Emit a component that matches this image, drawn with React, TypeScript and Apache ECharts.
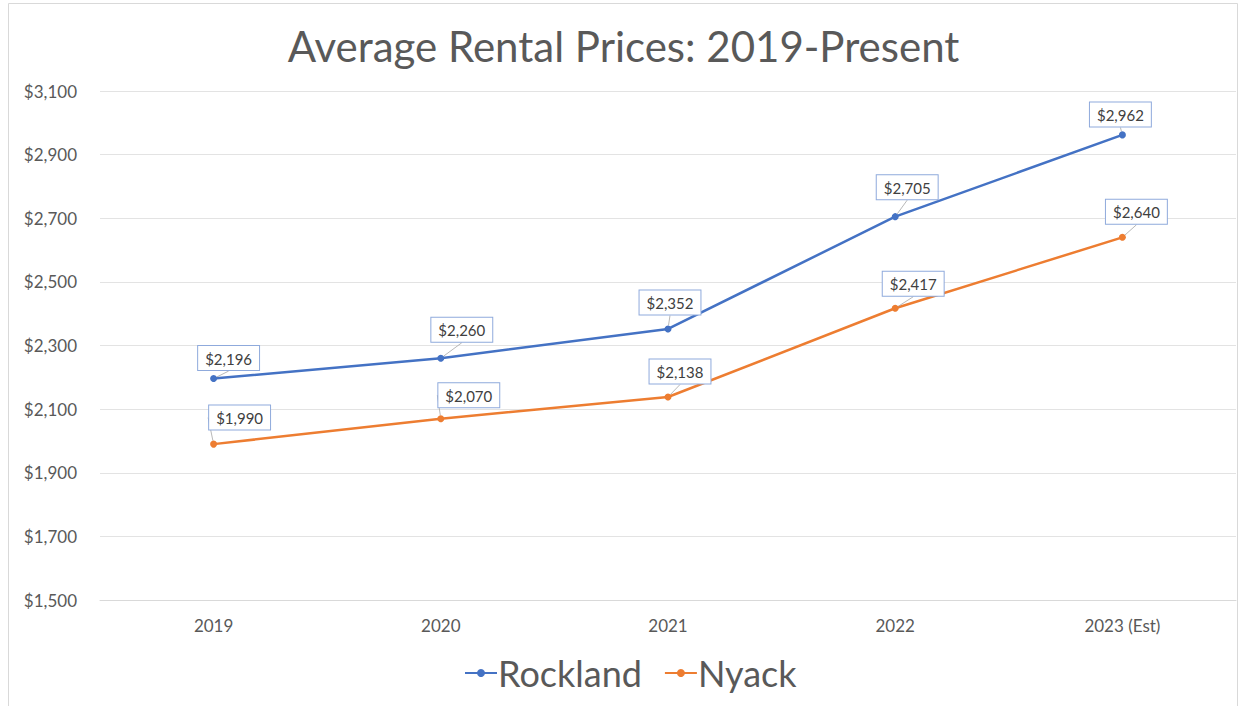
import React, { useEffect, useRef } from "react";
import * as echarts from "echarts";

const categories = ["2019", "2020", "2021", "2022", "2023 (Est)"];
const rockland = [2196, 2260, 2352, 2705, 2962];
const nyack = [1990, 2070, 2138, 2417, 2640];
const yMin = 1500;
const yMax = 3100;
const yStep = 200;

// label nudges (dx, dy) relative to default "top" position
const rocklandLabelShift = [[15, 0], [21, -8], [2, -6], [12, -9], [-2, 0]];
const nyackLabelShift = [[26, -6], [28, -3], [12, -5], [18, -4], [14, -5]];

const FONT = "Lato, 'Open Sans', sans-serif";
const TEXT = "#595959";

const fmt = (v: number) => "$" + v.toLocaleString("en-US");

export default function App() {
  const ref = useRef<HTMLDivElement>(null);
  useEffect(() => {
    document.body.style.margin = "0";
    const chart = echarts.init(ref.current!, null, { renderer: "svg" });
    const labelStyle = {
      show: true,
      position: "top",
      distance: 5,
      formatter: (p: any) => fmt(p.value),
      fontFamily: FONT,
      fontSize: 15,
      color: "#404040",
      backgroundColor: "#ffffff",
      borderColor: "#8faadc",
      borderWidth: 1,
      padding: [5, 7, 4, 7],
    };
    const shifts = [rocklandLabelShift, nyackLabelShift];
    chart.setOption({
      animation: false,
      backgroundColor: "#ffffff",
      textStyle: { fontFamily: FONT },
      title: {
        text: "Average Rental Prices: 2019-Present",
        left: "center",
        top: 20,
        textStyle: { fontFamily: FONT, fontSize: 42, fontWeight: "normal", color: TEXT },
      },
      graphic: [
        {
          type: "rect",
          shape: { x: 8.5, y: 3.5, width: 1229, height: 710 },
          style: { fill: "none", stroke: "#d9d9d9", lineWidth: 1 },
          silent: true,
        },
      ],
      legend: {
        bottom: 10,
        left: 459,
        itemWidth: 32,
        itemHeight: 10,
        itemGap: 22,
        textStyle: { fontFamily: FONT, fontSize: 36, color: TEXT, padding: [0, 0, 0, -4] },
        data: ["Rockland", "Nyack"],
      },
      grid: { left: 100, right: 11, top: 91, bottom: 106 },
      xAxis: {
        type: "category",
        data: categories,
        boundaryGap: true,
        axisLine: { show: true, lineStyle: { color: "#d9d9d9" } },
        axisTick: { show: false },
        axisLabel: { color: TEXT, fontFamily: FONT, fontSize: 17, margin: 17 },
      },
      yAxis: {
        type: "value",
        min: yMin,
        max: yMax,
        interval: yStep,
        axisLine: { show: false },
        axisTick: { show: false },
        splitLine: { lineStyle: { color: "#e3e3e3", width: 1 } },
        axisLabel: {
          color: TEXT,
          fontFamily: FONT,
          fontSize: 17,
          margin: 23,
          formatter: (v: number) => fmt(v),
        },
      },
      labelLayout: (params: any) => {
        const s = shifts[params.seriesIndex]?.[params.dataIndex];
        if (!s) return {};
        return { dx: s[0], dy: s[1] };
      },
      series: [
        {
          name: "Rockland",
          type: "line",
          data: rockland,
          symbol: "circle",
          symbolSize: 7,
          lineStyle: { color: "#4472c4", width: 2.5 },
          itemStyle: { color: "#4472c4" },
          label: labelStyle,
          labelLine: { show: true, lineStyle: { color: "#a6a6a6", width: 0.8 } },
          z: 3,
        },
        {
          name: "Nyack",
          type: "line",
          data: nyack,
          symbol: "circle",
          symbolSize: 7,
          lineStyle: { color: "#ed7d31", width: 2.5 },
          itemStyle: { color: "#ed7d31" },
          label: labelStyle,
          labelLine: { show: true, lineStyle: { color: "#a6a6a6", width: 0.8 } },
          z: 2,
        },
      ],
    });
    return () => chart.dispose();
  }, []);
  return <div ref={ref} style={{ width: 1247, height: 706 }} />;
}
